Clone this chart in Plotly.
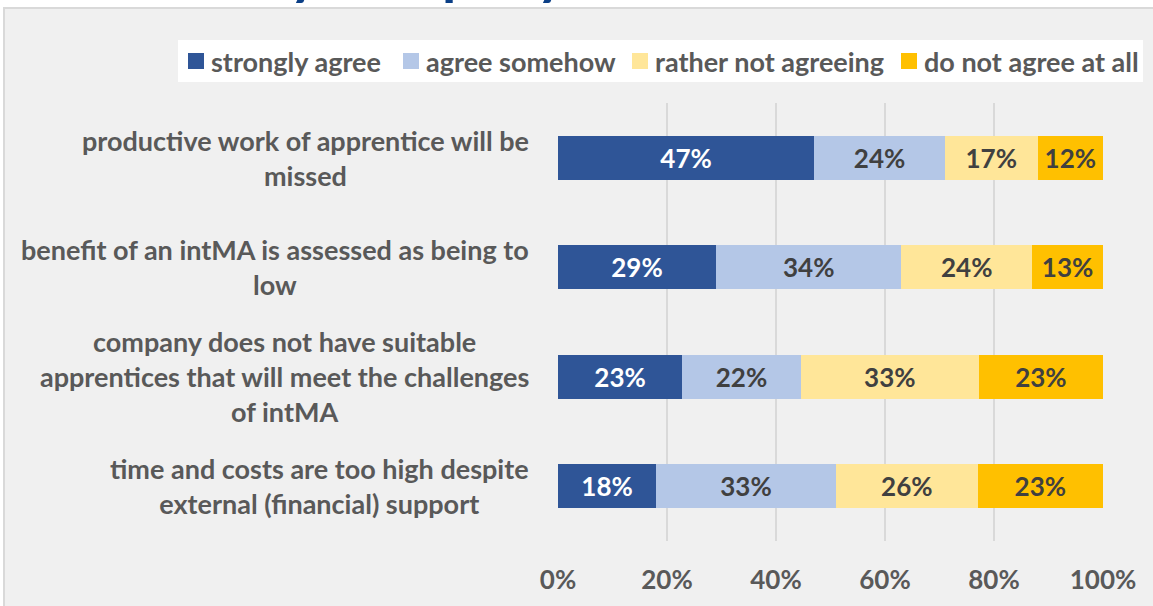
import plotly.graph_objects as go

# Survey statements (top to bottom) and answer shares in percent
categories = [
    "productive work of apprentice will be<br>missed",
    "benefit of an intMA is assessed as being to<br>low",
    "company does not have suitable<br>apprentices that will meet the challenges<br>of intMA",
    "time and costs are too high despite<br>external (financial) support",
]
series_names = ["strongly agree", "agree somehow", "rather not agreeing", "do not agree at all"]
strongly_agree = [47, 29, 23, 18]
agree_somehow = [24, 34, 22, 33]
rather_not = [17, 24, 33, 26]
not_at_all = [12, 13, 23, 23]
x_ticks = [0, 20, 40, 60, 80, 100]
x_tick_labels = ["0%", "20%", "40%", "60%", "80%", "100%"]
title_text = "Reasons stated by company"

series_values = [strongly_agree, agree_somehow, rather_not, not_at_all]
bar_colors = ["#2f5597", "#b4c7e7", "#ffe699", "#ffc000"]
text_colors = ["#ffffff", "#404040", "#404040", "#404040"]

FONT = "Lato"
W, H = 1153, 606
L, R, T, B = 558, 50, 103, 65
PW, PH = W - L - R, H - T - B

# legend layout (pixel positions of each key square's left edge)
legend_box = (178, 1143, 40, 82)
legend_key_x = [188, 403, 632, 901]
legend_key_size = 16


def px_x(px):
    return (px - L) / PW


def px_y(py):
    return (H - B - py) / PH


fig = go.Figure()
for name, vals, color, tcolor in zip(series_names, series_values, bar_colors, text_colors):
    fig.add_trace(go.Bar(
        y=categories,
        x=vals,
        name=name,
        orientation="h",
        marker=dict(color=color, line=dict(width=0)),
        text=[f"{v}%" for v in vals],
        textposition="inside",
        insidetextanchor="middle",
        textangle=0,
        constraintext="none",
        textfont=dict(family=FONT, size=26, color=tcolor, weight="bold"),
        width=0.4,
        hoverinfo="skip",
        showlegend=False,
    ))

# Background panel with thin border at top and left
fig.add_shape(type="rect", xref="paper", yref="paper",
              x0=px_x(4), x1=px_x(W + 20), y0=px_y(8), y1=px_y(H + 20),
              fillcolor="#f0f0f0", line=dict(color="#d9d9d9", width=2), layer="below")

# Legend: white box, coloured key squares and series names in one row
lx0, lx1, ly0, ly1 = legend_box
fig.add_shape(type="rect", xref="paper", yref="paper",
              x0=px_x(lx0), x1=px_x(lx1), y0=px_y(ly1), y1=px_y(ly0),
              fillcolor="#ffffff", line=dict(width=0), layer="below")
ly_mid = (ly0 + ly1) / 2
for name, color, kx in zip(series_names, bar_colors, legend_key_x):
    fig.add_shape(type="rect", xref="paper", yref="paper",
                  x0=px_x(kx), x1=px_x(kx + legend_key_size),
                  y0=px_y(ly_mid + legend_key_size / 2), y1=px_y(ly_mid - legend_key_size / 2),
                  fillcolor=color, line=dict(width=0))
    fig.add_annotation(
        x=px_x(kx + legend_key_size + 5), y=px_y(ly_mid), xref="paper", yref="paper",
        text=name, showarrow=False, xanchor="left", yanchor="middle",
        font=dict(family=FONT, size=27, color="#595959", weight="bold"),
    )

# Category labels, centred lines, right edge beside the plot area
for cat in categories:
    fig.add_annotation(
        x=px_x(531), y=cat, xref="paper", yref="y",
        text=cat, showarrow=False, xanchor="right", yanchor="middle",
        align="center",
        font=dict(family=FONT, size=27, color="#595959", weight="bold"),
    )

# Chart title (sits above the visible area)
fig.add_annotation(
    x=px_x(569), y=px_y(7), xref="paper", yref="paper",
    text=title_text, showarrow=False, xanchor="right", yanchor="bottom",
    font=dict(family=FONT, size=58, color="#0b3f86", weight="bold"),
)

fig.update_layout(
    width=W, height=H,
    margin=dict(l=L, r=R, t=T, b=B, pad=0),
    barmode="stack",
    barnorm="percent",
    paper_bgcolor="#ffffff",
    plot_bgcolor="rgba(0,0,0,0)",
    showlegend=False,
    xaxis=dict(
        range=[0, 100],
        tickvals=x_ticks,
        ticktext=x_tick_labels,
        showgrid=True, gridcolor="#d9d9d9", gridwidth=2,
        zeroline=False, showline=False,
        ticks="", ticklabelstandoff=21,
        tickfont=dict(family=FONT, size=26, color="#595959", weight="bold"),
        fixedrange=True,
    ),
    yaxis=dict(
        categoryorder="array", categoryarray=categories[::-1],
        showticklabels=False, showgrid=False, zeroline=False, showline=False,
        fixedrange=True,
    ),
)

fig.write_html("out.html", config={"displayModeBar": False})
